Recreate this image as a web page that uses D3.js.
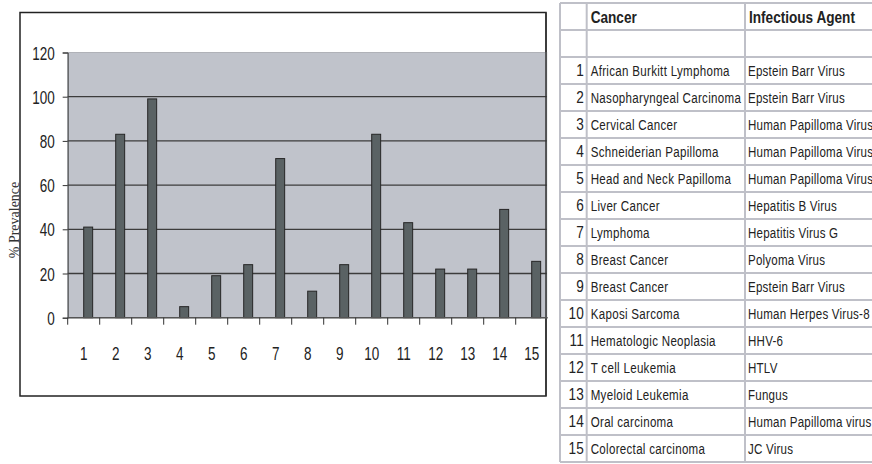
<!DOCTYPE html>
<html>
<head>
<meta charset="utf-8">
<script src="https://cdn.jsdelivr.net/npm/d3@7"></script>
<style>
  body { margin: 0; background: #fff; }
  svg { display: block; }
  text { font-family: "Liberation Sans", Arial, sans-serif; }
</style>
</head>
<body>
<div id="chart"></div>
<script>
// bar chart values
var caseIds = ["1","2","3","4","5","6","7","8","9","10","11","12","13","14","15"];
var prevalence = [41, 83, 99, 5, 19, 24, 72, 12, 24, 83, 43, 22, 22, 49, 25.5];
var yTicks = [0, 20, 40, 60, 80, 100, 120];

// table columns
var headers = ["", "Cancer", "Infectious Agent"];
var cancers = ["African Burkitt Lymphoma", "Nasopharyngeal Carcinoma", "Cervical Cancer",
  "Schneiderian Papilloma", "Head and Neck Papilloma", "Liver Cancer", "Lymphoma",
  "Breast Cancer", "Breast Cancer", "Kaposi Sarcoma", "Hematologic Neoplasia",
  "T cell Leukemia", "Myeloid Leukemia", "Oral carcinoma", "Colorectal carcinoma"];
var agents = ["Epstein Barr Virus", "Epstein Barr Virus", "Human Papilloma Virus",
  "Human Papilloma Virus", "Human Papilloma Virus", "Hepatitis B Virus", "Hepatitis Virus G",
  "Polyoma Virus", "Epstein Barr Virus", "Human Herpes Virus-8", "HHV-6", "HTLV",
  "Fungus", "Human Papilloma virus", "JC Virus"];

var W = 872, H = 464;
var svg = d3.select("#chart").append("svg").attr("width", W).attr("height", H);

// no Arial Narrow here, so squeeze Liberation Sans horizontally
function squeeze(sel, sx) {
  sel.each(function() {
    var t = d3.select(this);
    var tx = +t.attr("x") || 0, ty = +t.attr("y") || 0;
    t.attr("x", 0).attr("y", 0)
      .attr("transform", "translate(" + tx + "," + ty + ") scale(" + sx + ",1)");
  });
}

//----- chart -----
var frame = {x: 20, y: 12.5, w: 526, h: 383.5};
var plot = {left: 67.7, right: 547.7, top: 52.5, bottom: 317.7};

var x = d3.scaleBand().domain(caseIds).range([plot.left, plot.right]);
var y = d3.scaleLinear().domain([0, 120]).range([plot.bottom, plot.top]);

// outer border
svg.append("rect")
  .attr("x", frame.x).attr("y", frame.y)
  .attr("width", frame.w).attr("height", frame.h)
  .attr("fill", "#fff").attr("stroke", "#222").attr("stroke-width", 1.5);

// plot area
svg.append("rect")
  .attr("x", plot.left).attr("y", y(120))
  .attr("width", plot.right - plot.left - 1).attr("height", y(0) - y(120))
  .attr("fill", "#c0c3cb").attr("stroke", "#b0b2b8").attr("stroke-width", 1);

// gridlines
svg.selectAll(".grid")
  .data(yTicks.filter(function(d){ return d > 0 && d < 120; }))
  .enter().append("line")
  .attr("x1", plot.left).attr("x2", plot.right - 1)
  .attr("y1", function(d){ return y(d); })
  .attr("y2", function(d){ return y(d); })
  .attr("stroke", "#3c3c3c").attr("stroke-width", 1.3);

// right border drawn again over plot area
svg.append("line")
  .attr("x1", frame.x + frame.w).attr("x2", frame.x + frame.w)
  .attr("y1", frame.y).attr("y2", frame.y + frame.h)
  .attr("stroke", "#333").attr("stroke-width", 1.5);

// bars: start at the band centre, like the original
svg.selectAll(".bar")
  .data(prevalence)
  .enter().append("rect")
  .attr("class", "bar")
  .attr("x", function(d, i){ return x(caseIds[i]) + x.bandwidth() / 2; })
  .attr("width", x.bandwidth() * 0.28)
  .attr("y", function(d){ return y(d); })
  .attr("height", function(d){ return y(0) - y(d); })
  .attr("fill", "#5a6264").attr("stroke", "#262626").attr("stroke-width", 1);

// y axis
var yAxis = svg.append("g")
  .attr("transform", "translate(" + plot.left + ",0)")
  .call(d3.axisLeft(y).tickValues(yTicks).tickSize(5).tickPadding(8));
yAxis.select(".domain").attr("stroke", "#444");
yAxis.selectAll(".tick line").attr("stroke", "#333");
yAxis.selectAll("text")
  .attr("font-family", null)
  .attr("font-size", 18).attr("fill", "#222")
  .attr("dy", null).attr("y", 6.5)
  .call(squeeze, 0.75);

// x axis line at 0
svg.append("line")
  .attr("x1", plot.left).attr("x2", plot.right)
  .attr("y1", y(0)).attr("y2", y(0))
  .attr("stroke", "#555").attr("stroke-width", 1.5);

// x tick marks at band edges
svg.selectAll(".xtick")
  .data(caseIds)
  .enter().append("line")
  .attr("x1", function(d){ return x(d); })
  .attr("x2", function(d){ return x(d); })
  .attr("y1", y(0)).attr("y2", y(0) + 7)
  .attr("stroke", "#333");

svg.selectAll(".xlab")
  .data(caseIds)
  .enter().append("text")
  .attr("x", function(d){ return x(d) + x.bandwidth() / 2; })
  .attr("y", 360)
  .attr("text-anchor", "middle")
  .attr("font-size", 18).attr("fill", "#222")
  .text(function(d){ return d; })
  .call(squeeze, 0.75);

// y title
svg.append("text")
  .attr("transform", "translate(19,220) rotate(-90)")
  .attr("text-anchor", "middle")
  .style("font-family", "'Liberation Serif', 'Times New Roman', serif")
  .attr("font-size", 14).attr("fill", "#333")
  .text("% Prevalence");

//----- table -----
var cols = [560, 586.7, 745, 900];
var rowH = 27, top0 = 3;
var nRows = cancers.length + 2;
var ry = d3.scaleLinear().domain([0, nRows]).range([top0, top0 + nRows * rowH]);

var tbl = svg.append("g");

// horizontal rules
tbl.selectAll(".hr")
  .data(d3.range(nRows + 1))
  .enter().append("line")
  .attr("x1", cols[0]).attr("x2", W)
  .attr("y1", function(d){ return ry(d); })
  .attr("y2", function(d){ return ry(d); })
  .attr("stroke", "#bfc0c8").attr("stroke-width", 2);

// vertical rules
tbl.selectAll(".vr")
  .data(cols.slice(0, 3))
  .enter().append("line")
  .attr("x1", function(d){ return d; }).attr("x2", function(d){ return d; })
  .attr("y1", ry(0)).attr("y2", ry(nRows))
  .attr("stroke", "#bfc0c8").attr("stroke-width", 2);

// header
tbl.selectAll(".hd")
  .data(headers)
  .enter().append("text")
  .attr("x", function(d, i){ return cols[i] + 4; })
  .attr("y", ry(0.5) + 6)
  .attr("font-size", 17).attr("font-weight", "bold").attr("fill", "#222")
  .text(function(d){ return d; })
  .call(squeeze, 0.8);

var rows = tbl.selectAll(".row")
  .data(cancers)
  .enter().append("g")
  .attr("transform", function(d, i){ return "translate(0," + (ry(i + 2.5) + 5.5) + ")"; });

rows.append("text")
  .attr("x", cols[1] - 3).attr("text-anchor", "end")
  .attr("font-size", 17).attr("fill", "#222")
  .text(function(d, i){ return caseIds[i]; })
  .call(squeeze, 0.8);

rows.append("text")
  .attr("x", cols[1] + 4)
  .attr("font-size", 15).attr("fill", "#222")
  .style("letter-spacing", "0.4px")
  .text(function(d){ return d; })
  .call(squeeze, 0.77);

rows.append("text")
  .attr("x", cols[2] + 3)
  .attr("font-size", 15).attr("fill", "#222")
  .style("letter-spacing", "0.3px")
  .text(function(d, i){ return agents[i]; })
  .call(squeeze, 0.77);
</script>
</body>
</html>
